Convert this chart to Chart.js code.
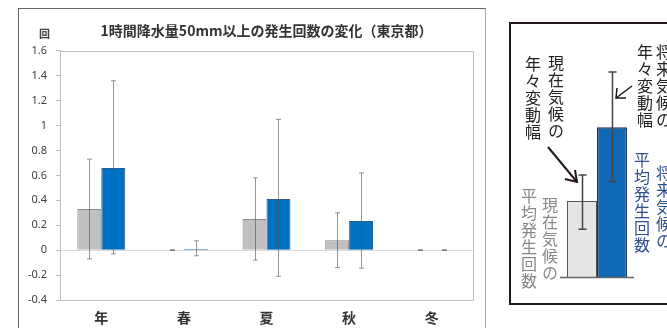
<!DOCTYPE html>
<html>
<head>
<meta charset="utf-8">
<title>1時間降水量50mm以上の発生回数の変化（東京都）</title>
<style>
  body { margin: 0; width: 667px; height: 328px; overflow: hidden; background: #fff; position: relative;
         font-family: "Noto Sans CJK JP", sans-serif; }
  #frameL { position: absolute; left: 18px; top: 8px; width: 466px; height: 340px;
            border: 1px solid #666; border-right-color: #aaa; }
  #mainChart { position: absolute; left: 0; top: 0; }
  #frameR { position: absolute; left: 509px; top: 22px; width: 220px; height: 279px; border: 2px solid #231815; }
  #legChart { position: absolute; left: 560px; top: 60px; }
  .unit { position: absolute; left: 39px; top: 25px; font-size: 11px; font-weight: bold; color: #444; }
  .v { position: absolute; writing-mode: vertical-rl; font-size: 16px; letter-spacing: 1px;
       line-height: 1; white-space: nowrap; color: #222; }
  .g { color: #888; }
  .b { color: #2f4f8f; }
  #arrows { position: absolute; left: 0; top: 0; }
</style>
</head>
<body>
  <div id="frameL"></div>
  <canvas id="mainChart" width="485" height="328"></canvas>
  <div class="unit">回</div>

  <!-- 凡例の説明図 -->
  <div id="frameR"></div>
  <canvas id="legChart" width="74" height="220"></canvas>
  <div class="v" style="left:548px; top:55px;">現在気候の</div>
  <div class="v" style="left:525px; top:56px;">年々変動幅</div>
  <div class="v" style="left:656px; top:44px;">将来気候の</div>
  <div class="v" style="left:637px; top:44px;">年々変動幅</div>
  <div class="v g" style="left:542px; top:197px;">現在気候の</div>
  <div class="v g" style="left:521px; top:188px;">平均発生回数</div>
  <div class="v b" style="left:634px; top:152px;">平均発生回数</div>
  <div class="v b" style="left:656px; top:165px;">将来気候の</div>
  <svg id="arrows" width="667" height="328">
    <g stroke="#231815" fill="none">
      <line x1="548" y1="147" x2="577" y2="182" stroke-width="2"/>
      <polyline points="565,179 577,182 575,170" stroke-width="2"/>
      <line x1="632" y1="86" x2="616" y2="98" stroke-width="1.5"/>
      <polyline points="617,88 616,98 626,98" stroke-width="1.5"/>
    </g>
  </svg>

<script src="https://cdn.jsdelivr.net/npm/chart.js"></script>
<script>
  // データ
  const categories = ['年', '春', '夏', '秋', '冬'];
  const currentMean = [0.33, 0, 0.25, 0.08, 0];
  const currentLow = [-0.07, -0.003, -0.08, -0.14, -0.003];
  const currentHigh = [0.73, 0.003, 0.58, 0.30, 0.003];
  const futureMean = [0.66, 0.01, 0.41, 0.235, 0];
  const futureLow = [-0.03, -0.045, -0.21, -0.145, -0.003];
  const futureHigh = [1.36, 0.075, 1.05, 0.62, 0.003];
  const yTickValues = [-0.4, -0.2, 0, 0.2, 0.4, 0.6, 0.8, 1, 1.2, 1.4, 1.6];
  const yTickLabels = ['-0.4', '-0.2', '0', '0.2', '0.4', '0.6', '0.8', '1', '1.2', '1.4', '1.6'];

  // 凡例の説明図用
  const legendCats = ['凡例'];
  const legendCurrent = [0.35];
  const legendCurrentLow = [0.22];
  const legendCurrentHigh = [0.47];
  const legendFuture = [0.69];
  const legendFutureLow = [0.44];
  const legendFutureHigh = [0.945];

  // エラーバー
  const errorBars = {
    id: 'errorBars',
    afterDatasetsDraw(chart, args, opts) {
      const ctx = chart.ctx, y = chart.scales.y;
      chart.data.datasets.forEach((ds, i) => {
        if (!ds.low) return;
        chart.getDatasetMeta(i).data.forEach((bar, j) => {
          const x = Math.round(bar.x) + 0.5;
          const top = y.getPixelForValue(ds.high[j]);
          const bot = y.getPixelForValue(ds.low[j]);
          ctx.save();
          ctx.strokeStyle = opts.color;
          ctx.lineWidth = opts.width;
          ctx.beginPath();
          ctx.moveTo(x, top); ctx.lineTo(x, bot);
          ctx.moveTo(x - opts.cap, top); ctx.lineTo(x + opts.cap, top);
          ctx.moveTo(x - opts.cap, bot); ctx.lineTo(x + opts.cap, bot);
          ctx.stroke();
          ctx.restore();
        });
      });
    }
  };

  // プロット枠
  const plotFrame = {
    id: 'plotFrame',
    beforeDatasetsDraw(chart, args, opts) {
      const a = chart.chartArea, ctx = chart.ctx;
      ctx.save();
      ctx.strokeStyle = opts.color;
      ctx.lineWidth = 1;
      ctx.strokeRect(Math.round(a.left) + 0.5, Math.round(a.top) + 0.5,
                     Math.round(a.right - a.left), Math.round(a.bottom - a.top));
      ctx.restore();
    }
  };

  // 基線
  const baseLine = {
    id: 'baseLine',
    afterDatasetsDraw(chart, args, opts) {
      const a = chart.chartArea, ctx = chart.ctx;
      const y0 = Math.round(chart.scales.y.getPixelForValue(0)) + 0.5;
      ctx.save();
      ctx.strokeStyle = opts.color;
      ctx.lineWidth = 1.5;
      ctx.beginPath();
      ctx.moveTo(a.left, y0); ctx.lineTo(a.right, y0);
      ctx.stroke();
      ctx.restore();
    }
  };

  new Chart(document.getElementById('mainChart'), {
    type: 'bar',
    data: {
      labels: categories,
      datasets: [{
        label: '現在気候',
        data: currentMean, low: currentLow, high: currentHigh,
        backgroundColor: '#c0c0c0', borderColor: '#8a8a8a', borderWidth: 1,
        categoryPercentage: 0.58, barPercentage: 1
      }, {
        label: '将来気候',
        data: futureMean, low: futureLow, high: futureHigh,
        backgroundColor: '#0070c0', borderColor: '#2a5c8f', borderWidth: 1,
        categoryPercentage: 0.58, barPercentage: 1
      }]
    },
    options: {
      responsive: false,
      animation: false,
      layout: { padding: { left: 0, right: 12, top: 22, bottom: 0 } },
      plugins: {
        legend: { display: false },
        tooltip: { enabled: false },
        title: {
          display: true, fullSize: false,
          text: '1時間降水量50mm以上の発生回数の変化（東京都）',
          color: '#333',
          font: { size: 14, weight: 'bold', family: '"Noto Sans CJK JP"' },
          padding: { top: 0, bottom: 12 }
        },
        errorBars: { color: 'rgba(80,80,80,0.6)', width: 1, cap: 2.5 },
        plotFrame: { color: '#bfbfbf' }
      },
      scales: {
        x: {
          grid: { display: false },
          border: { display: false },
          ticks: { color: '#333', padding: 1, font: { size: 14, weight: 'bold', family: '"Noto Sans CJK JP"' } },
          afterFit: s => { s.height = 28; }
        },
        y: {
          min: -0.4, max: 1.6,
          afterBuildTicks: s => { s.ticks = yTickValues.map(v => ({ value: v })); },
          grid: {
            color: c => (c.tick && c.tick.value === 0) ? '#d9d9d9' : 'rgba(0,0,0,0)',
            tickColor: '#bfbfbf', tickLength: 4
          },
          border: { color: '#bfbfbf' },
          ticks: {
            color: '#404040', padding: 9,
            font: { size: 11, family: '"Noto Sans"' },
            callback: (v, i) => yTickLabels[i]
          },
          afterFit: s => { s.width = 60; }
        }
      }
    },
    plugins: [plotFrame, errorBars]
  });

  new Chart(document.getElementById('legChart'), {
    type: 'bar',
    data: {
      labels: legendCats,
      datasets: [{
        data: legendCurrent, low: legendCurrentLow, high: legendCurrentHigh,
        backgroundColor: '#e5e5e5', borderColor: '#555', borderWidth: 1,
        borderSkipped: 'bottom',
        categoryPercentage: 0.81, barPercentage: 1
      }, {
        data: legendFuture, low: legendFutureLow, high: legendFutureHigh,
        backgroundColor: '#0f68b3', borderColor: '#1b2f4f', borderWidth: 1.5,
        borderSkipped: 'bottom',
        categoryPercentage: 0.81, barPercentage: 1
      }]
    },
    options: {
      responsive: false,
      animation: false,
      layout: { padding: { left: 0, right: 0, top: 0, bottom: 3 } },
      plugins: {
        legend: { display: false },
        tooltip: { enabled: false },
        errorBars: { color: '#444', width: 1.5, cap: 4 },
        baseLine: { color: '#666' }
      },
      scales: {
        x: { display: false },
        y: { display: false, min: 0, max: 1 }
      }
    },
    plugins: [errorBars, baseLine]
  });
</script>
</body>
</html>
